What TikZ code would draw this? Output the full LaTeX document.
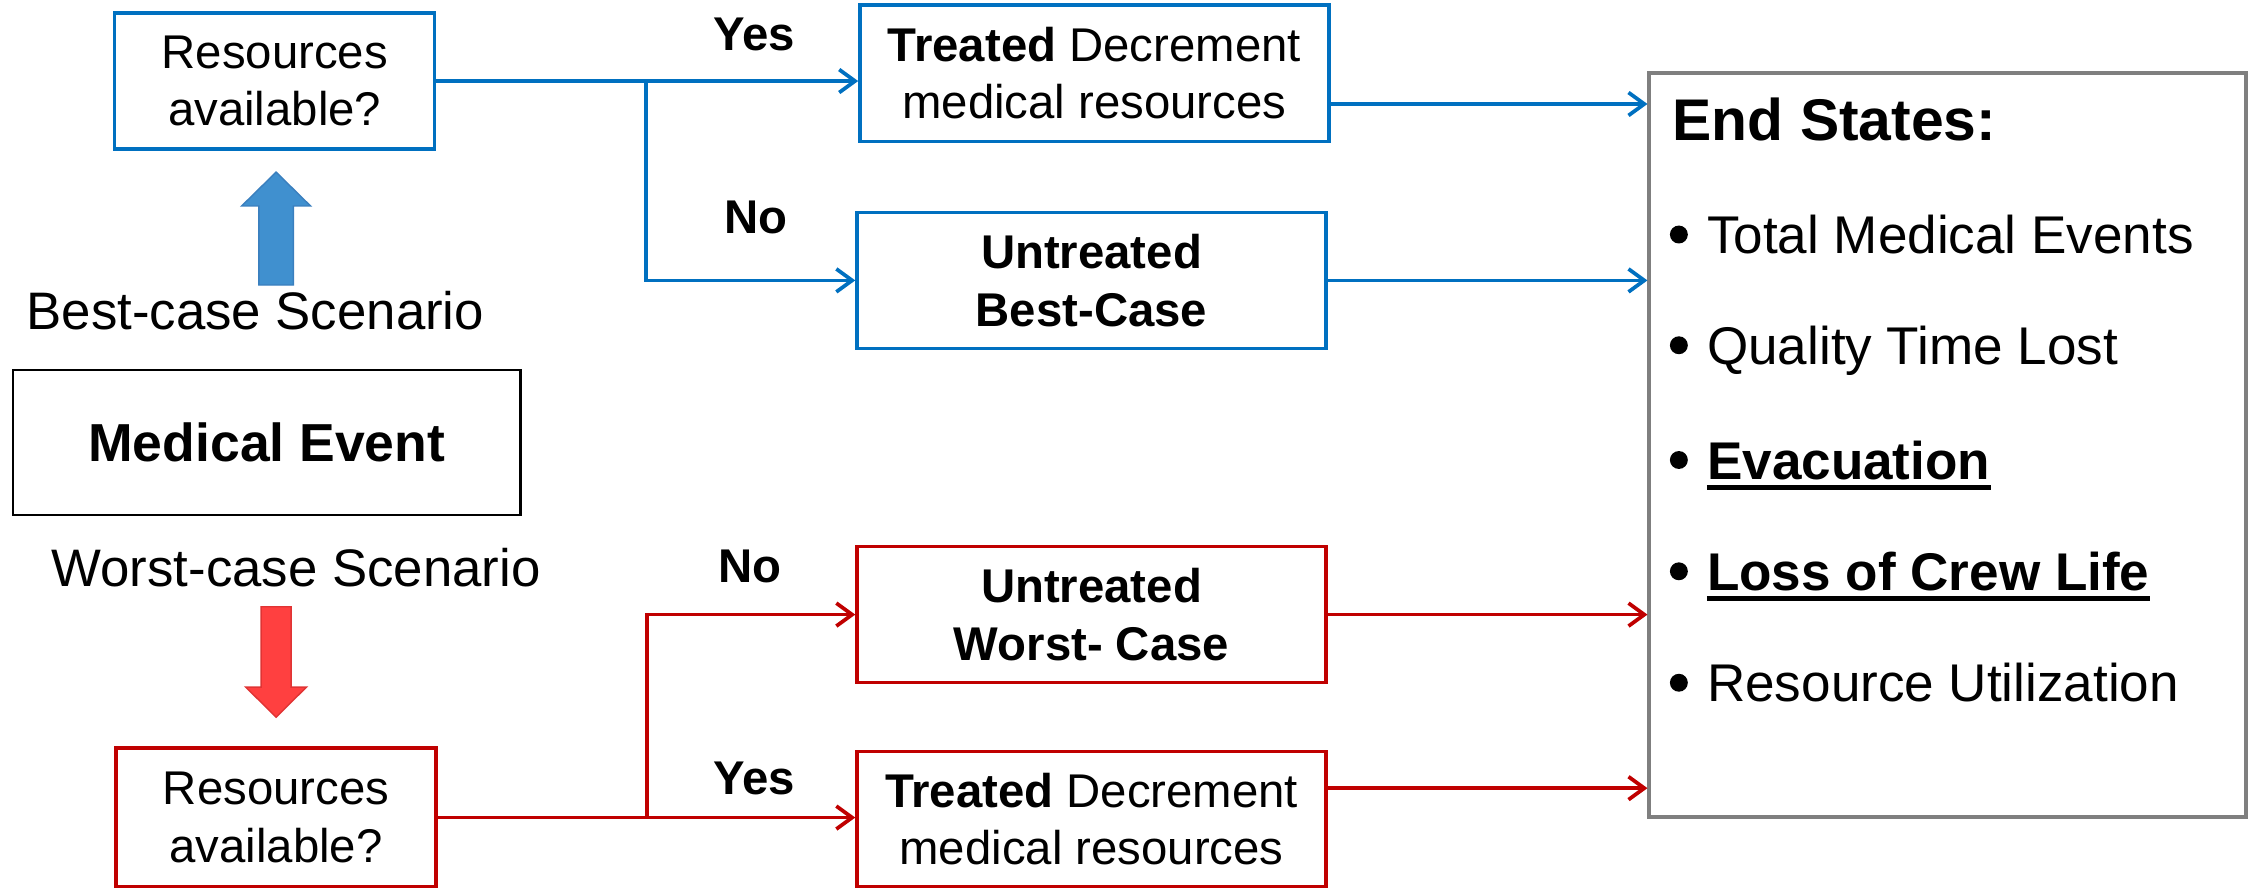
\documentclass[tikz,border=0pt]{standalone}
\usepackage{fontspec}
\setmainfont{Liberation Sans}
\usetikzlibrary{arrows.meta}
\definecolor{bestblue}{HTML}{0070C0}
\definecolor{worstred}{HTML}{C00000}
\definecolor{bestfill}{HTML}{4090CF}
\definecolor{bestedge}{HTML}{3A7FBE}
\definecolor{worstfill}{HTML}{FF4040}
\definecolor{worstedge}{HTML}{E03434}
\definecolor{endgray}{HTML}{7F7F7F}
\tikzset{
    every node/.style={font=\fontsize{33}{40}\selectfont},
    box/.style={draw, rectangle, line width=2.4pt, minimum width=327pt, minimum height=95pt, align=center, inner sep=0pt},
    bestbox/.style={box, draw=bestblue},
    worstbox/.style={box, draw=worstred},
    conn/.style={line width=2.6pt, -{Straight Barb[length=11pt,width=16pt]}},
    bestline/.style={conn, draw=bestblue},
    worstline/.style={conn, draw=worstred},
    answer/.style={anchor=base, inner sep=0pt, font=\fontsize{33}{40}\selectfont\bfseries},
    scenario/.style={anchor=base, inner sep=0pt, font=\fontsize{36.8}{44}\selectfont},
    esitem/.style={anchor=base west, inner sep=0pt, font=\fontsize{37}{44}\selectfont},
    esbullet/.style={circle, fill=black, inner sep=0pt, minimum size=12.5pt}
}

\begin{document}
\begin{tikzpicture}[x=1pt, y=-1pt]
            \useasboundingbox (0,0) rectangle (1568,619);
            % left column
            \node[bestbox, minimum width=223pt] (res1) at (191.5,56.5) {Resources\\available?};
            \node[box, draw=black, line width=1.8pt, minimum width=354pt, minimum height=101pt, font=\fontsize{37.3}{44}\selectfont\bfseries] (med) at (186,308.5) {Medical Event};
            \node[worstbox, minimum width=223pt, minimum height=97pt] (res2) at (192.5,570) {Resources\\available?};
            \node[scenario] (best) at (178,230) {Best-case Scenario};
            \node[scenario] (worst) at (206.5,409.2) {Worst-case Scenario};
            \draw[bestedge, fill=bestfill, line width=1pt] (180.5,198.7) -- (180.5,143.6) -- (168.5,143.6) -- (192.5,120) -- (216.5,143.6) -- (204.5,143.6) -- (204.5,198.7) -- cycle;
            \draw[worstedge, fill=worstfill, line width=1pt] (182,423) -- (203,423) -- (203,479) -- (213.7,479) -- (192.5,500) -- (171.3,479) -- (182,479) -- cycle;

            % outcomes
            \node[bestbox] (tre1) at (763,51) {\textbf{Treated} Decrement\\medical resources};
            \node[bestbox, font=\fontsize{33}{40}\selectfont\bfseries] (unt1) at (761,195.5) {Untreated\\Best-Case};
            \node[worstbox, font=\fontsize{33}{40}\selectfont\bfseries] (unt2) at (761,428.5) {Untreated\\Worst- Case};
            \node[worstbox, minimum height=94pt] (tre2) at (761,571) {\textbf{Treated} Decrement\\medical resources};
            \node[answer] (yes1) at (526,34.9) {Yes};
            \node[answer] (no1) at (527,162.6) {No};
            \node[answer] (no2) at (523,406) {No};
            \node[answer] (yes2) at (526,554) {Yes};

            % end states
            \node[draw=endgray, line width=2.8pt, minimum width=416pt, minimum height=518.6pt, inner sep=0pt] (endst) at (1358,310) {};
            \node[anchor=base west, inner sep=0pt, font=\fontsize{41}{49}\selectfont\bfseries] (estitle) at (1166,98) {End States:};
            \node[esitem] (es1) at (1190,176.8) {Total Medical Events};
            \node[esitem] (es2) at (1190,254) {Quality Time Lost};
            \node[esitem, font=\fontsize{37}{44}\selectfont\bfseries] (es3) at (1190,334) {Evacuation};
            \node[esitem, font=\fontsize{37}{44}\selectfont\bfseries] (es4) at (1190,411.6) {Loss of Crew Life};
            \node[esitem] (es5) at (1190,489.3) {Resource Utilization};
            \node[esbullet] (b1) at (1170.5,163.5) {};
            \node[esbullet] (b2) at (1170.5,240.7) {};
            \node[esbullet] (b3) at (1170.5,320.7) {};
            \node[esbullet] (b4) at (1170.5,398.3) {};
            \node[esbullet] (b5) at (1170.5,476) {};
            \draw[line width=3.5pt] ([yshift=-5.6pt]es3.base west) -- ([yshift=-5.6pt]es3.base east);
            \draw[line width=3.5pt] ([yshift=-5.6pt]es4.base west) -- ([yshift=-5.6pt]es4.base east);

            % connectors
            \coordinate (j1) at (450.5,56.5);
            \coordinate (j2) at (451,570);
            \draw[bestline] (res1.east) -- (tre1.west |- res1.east);
            \draw[bestline] (j1) |- (unt1.west);
            \draw[worstline] (res2.east) -- (tre2.west |- res2.east);
            \draw[worstline] (j2) |- (unt2.west);
            \draw[bestline] ([yshift=-21.5pt]tre1.east) -- ([yshift=-21.5pt]tre1.east -| endst.west);
            \draw[bestline] (unt1.east) -- (unt1.east -| endst.west);
            \draw[worstline] (unt2.east) -- (unt2.east -| endst.west);
            \draw[worstline] ([yshift=21.5pt]tre2.east) -- ([yshift=21.5pt]tre2.east -| endst.west);
        \end{tikzpicture}
\end{document}
